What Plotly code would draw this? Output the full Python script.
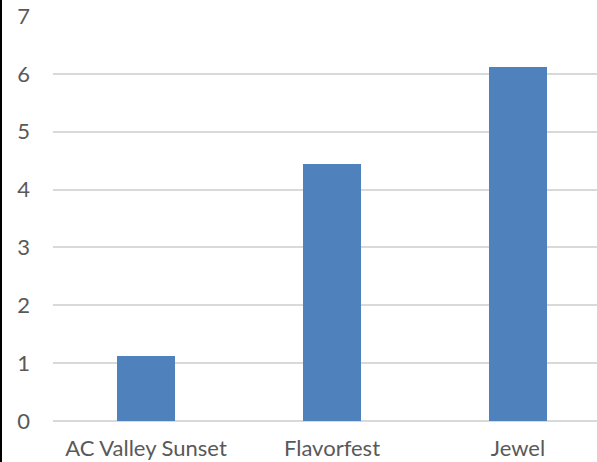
import plotly.graph_objects as go

# Chart data
categories = ["AC Valley Sunset", "Flavorfest", "Jewel"]
values = [1.13, 4.44, 6.12]
y_ticks = [0, 1, 2, 3, 4, 5, 6, 7]

W, H = 597, 462
M_L, M_R, M_T, M_B = 53, 0, 16, 41
plot_w = W - M_L - M_R

font = dict(family="Lato, 'Open Sans', sans-serif", size=22, color="#595959")

fig = go.Figure(
    go.Bar(
        x=categories,
        y=values,
        marker=dict(color="#4f81bd", line=dict(width=0)),
        width=0.312,
    )
)

fig.update_layout(
    width=W,
    height=H,
    margin=dict(l=M_L, r=M_R, t=M_T, b=M_B, pad=0),
    paper_bgcolor="white",
    plot_bgcolor="white",
    showlegend=False,
    font=font,
    bargap=0,
)

# Category slots are 186 px wide; the right edge cuts into the last slot
fig.update_xaxes(
    range=[-0.5, -0.5 + plot_w / 186.0],
    automargin=False,
    showgrid=False,
    showline=False,
    zeroline=False,
    ticks="",
    ticklabelstandoff=12,
    tickfont=font,
)

fig.update_yaxes(
    range=[0, 7],
    tickvals=y_ticks,
    automargin=False,
    showgrid=True,
    gridcolor="#d9d9d9",
    gridwidth=1.6,
    zeroline=True,
    zerolinecolor="#d9d9d9",
    zerolinewidth=1.6,
    showline=False,
    ticks="",
    ticklabelstandoff=22,
    tickfont=font,
)

# Dark border along the left edge of the canvas
fig.add_shape(
    type="rect",
    xref="paper",
    yref="paper",
    x0=(0 - M_L) / plot_w,
    x1=(2 - M_L) / plot_w,
    y0=-M_B / (H - M_T - M_B),
    y1=1 + M_T / (H - M_T - M_B),
    fillcolor="black",
    line=dict(width=0),
    layer="above",
)

fig.write_html("out.html")
